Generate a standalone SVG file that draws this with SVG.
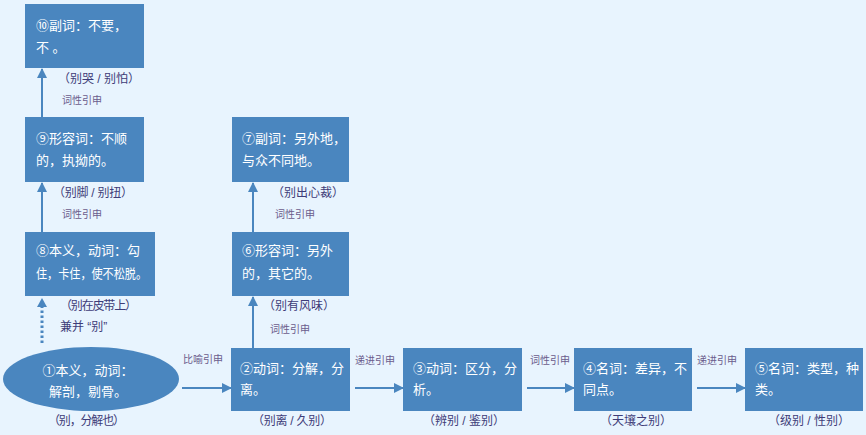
<svg xmlns="http://www.w3.org/2000/svg" width="866" height="435" viewBox="0 0 866 435">
<style>
.bg{fill:#E8F4FE}
.n{fill:#4A86BF}
.t{font-family:"Liberation Sans","Noto Sans CJK SC",sans-serif;font-size:13px;fill:#FFFFFF}
.c{font-family:"Liberation Sans","Noto Sans CJK SC",sans-serif;font-size:12px;fill:#3E3C78}
.l{font-family:"Liberation Sans","Noto Sans CJK SC",sans-serif;font-size:10px;fill:#6B5C8C}
.a{stroke:#4A86BF;stroke-width:2;fill:none;marker-end:url(#ah)}
.d{stroke:#4A86BF;stroke-width:3;fill:none;stroke-dasharray:2.5 2.5}
</style>
<defs>
<marker id="ah" viewBox="0 0 10 10" refX="9" refY="5" markerWidth="5" markerHeight="5" orient="auto" markerUnits="strokeWidth">
<path d="M0,0 L10,5 L0,10 z" fill="#4A86BF"/>
</marker>
</defs>
<rect class="bg" x="0" y="0" width="866" height="435"/>
<g id="connectors">
<line class="a" x1="42" y1="117" x2="42" y2="69"/>
<line class="a" x1="42" y1="232" x2="42" y2="183"/>
<line class="d" x1="42" y1="343" x2="42" y2="306"/>
<path d="M37,307 L42,298 L47,307 z" fill="#4A86BF"/>
<line class="a" x1="253" y1="232" x2="253" y2="183"/>
<line class="a" x1="253" y1="348" x2="253" y2="297"/>
<line class="a" x1="182" y1="388" x2="231" y2="388"/>
<line class="a" x1="355" y1="388" x2="403" y2="388"/>
<line class="a" x1="527" y1="388" x2="574" y2="388"/>
<line class="a" x1="697" y1="388" x2="745" y2="388"/>
<text class="l" x="62" y="104">词性引申</text>
<text class="l" x="62" y="218">词性引申</text>
<text class="c" x="60" y="331">兼并 “别”</text>
<text class="l" x="275" y="218">词性引申</text>
<text class="l" x="270" y="333">词性引申</text>
<text class="l" x="183" y="363">比喻引申</text>
<text class="l" x="355" y="364">递进引申</text>
<text class="l" x="530" y="364">词性引申</text>
<text class="l" x="697" y="364">递进引申</text>
</g>
<g id="n10">
<rect class="n" x="25" y="4" width="119" height="64"/>
<text class="t" x="36" y="30">⑩副词：不要，</text>
<text class="t" x="36" y="52">不 。</text>
<text class="c" x="58" y="83" textLength="82" lengthAdjust="spacing">（别哭 / 别怕）</text>
</g>
<g id="n9">
<rect class="n" x="25" y="117" width="119" height="65"/>
<text class="t" x="36" y="143">⑨形容词：不顺</text>
<text class="t" x="36" y="165">的，执拗的。</text>
<text class="c" x="53" y="197" textLength="80" lengthAdjust="spacing">（别脚 / 别扭）</text>
</g>
<g id="n8">
<rect class="n" x="25" y="232" width="130" height="64"/>
<text class="t" x="36" y="255">⑧本义，动词：勾</text>
<text class="t" x="36" y="278" textLength="111" lengthAdjust="spacingAndGlyphs">住，卡住，使不松脱。</text>
<text class="c" x="60" y="310" textLength="77" lengthAdjust="spacing">（别在皮带上）</text>
</g>
<g id="n1">
<ellipse class="n" cx="91" cy="379" rx="88" ry="32"/>
<text class="t" x="88" y="375" text-anchor="middle">①本义，动词：</text>
<text class="t" x="88" y="396" text-anchor="middle">解剖，剔骨。</text>
<text class="c" x="48" y="425" textLength="77" lengthAdjust="spacing">（别，分解也）</text>
</g>
<g id="n7">
<rect class="n" x="232" y="117" width="117" height="65"/>
<text class="t" x="242" y="143">⑦副词：另外地，</text>
<text class="t" x="242" y="165">与众不同地。</text>
<text class="c" x="272" y="197">（别出心裁）</text>
</g>
<g id="n6">
<rect class="n" x="232" y="232" width="117" height="64"/>
<text class="t" x="242" y="255">⑥形容词：另外</text>
<text class="t" x="242" y="278">的，其它的。</text>
<text class="c" x="263" y="310">（别有风味）</text>
</g>
<g id="n2">
<rect class="n" x="231" y="348" width="119" height="63"/>
<text class="t" x="240" y="373">②动词：分解，分</text>
<text class="t" x="240" y="394">离。</text>
<text class="c" x="252" y="425" textLength="80" lengthAdjust="spacing">（别离 / 久别）</text>
</g>
<g id="n3">
<rect class="n" x="403" y="348" width="119" height="63"/>
<text class="t" x="413" y="373">③动词：区分，分</text>
<text class="t" x="413" y="394">析。</text>
<text class="c" x="423" y="425" textLength="82" lengthAdjust="spacing">（辨别 / 鉴别）</text>
</g>
<g id="n4">
<rect class="n" x="574" y="348" width="118" height="63"/>
<text class="t" x="583" y="373">④名词：差异，不</text>
<text class="t" x="583" y="394">同点。</text>
<text class="c" x="600" y="425">（天壤之别）</text>
</g>
<g id="n5">
<rect class="n" x="745" y="348" width="118" height="63"/>
<text class="t" x="755" y="373">⑤名词：类型，种</text>
<text class="t" x="755" y="394">类。</text>
<text class="c" x="768" y="425" textLength="82" lengthAdjust="spacing">（级别 / 性别）</text>
</g>
</svg>
